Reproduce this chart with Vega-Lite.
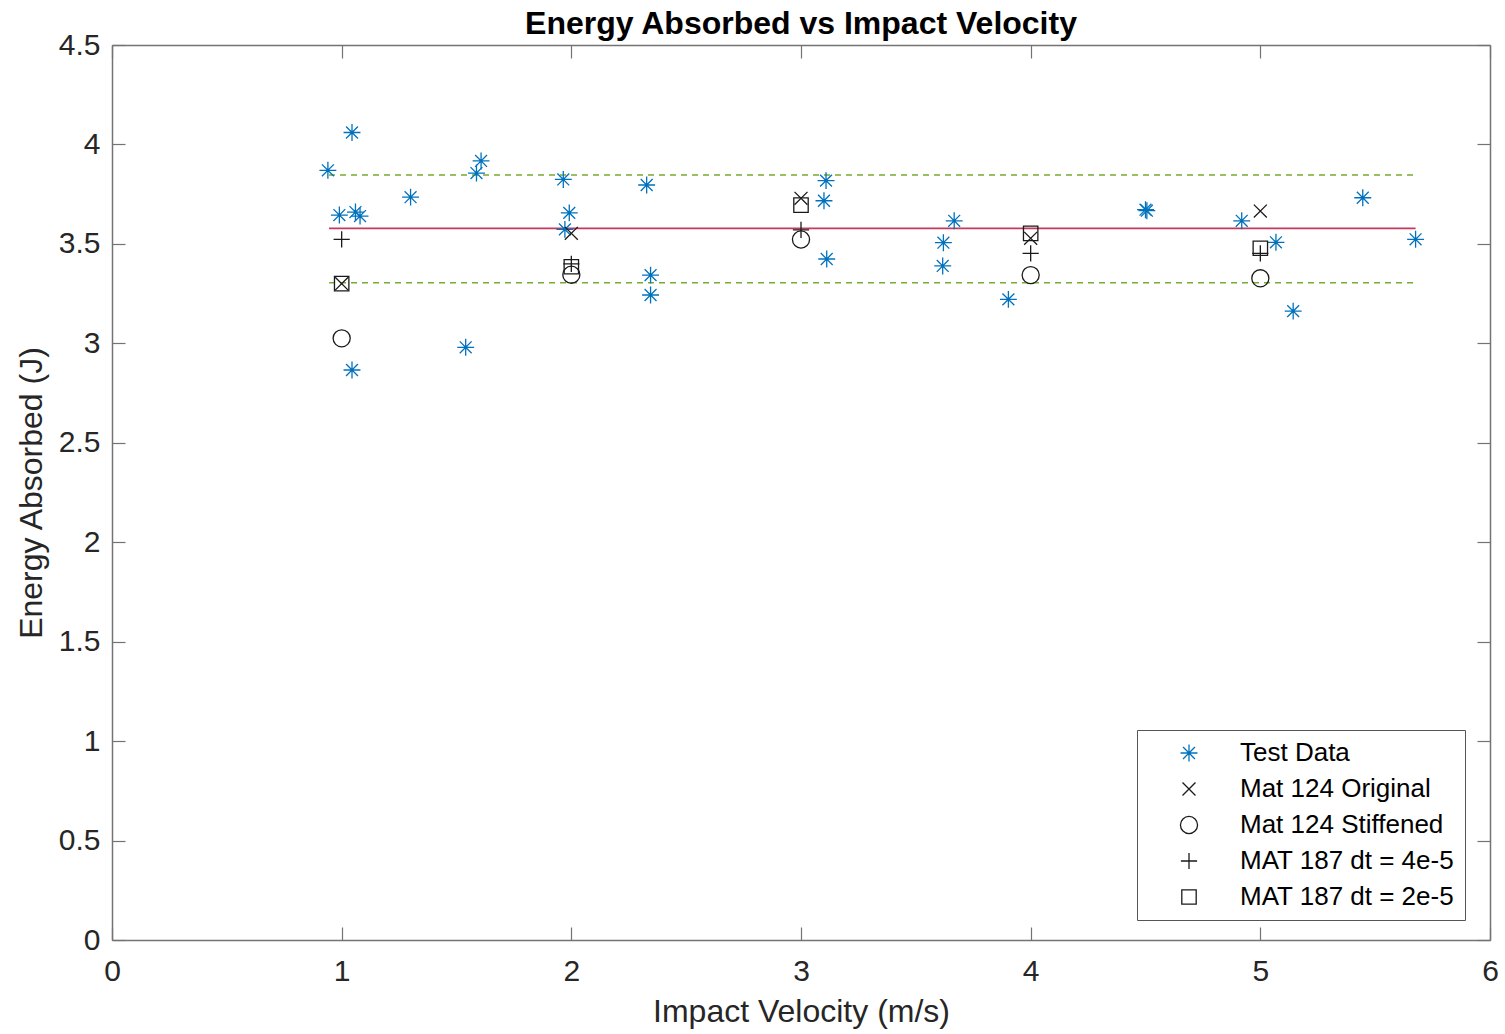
{
  "$schema": "https://vega.github.io/schema/vega-lite/v6.json",
  "width": 1378,
  "height": 895,
  "autosize": {"type": "none"},
  "padding": {"left": 112, "top": 45, "right": 15, "bottom": 94},
  "background": "white",
  "config": {
    "font": "Liberation Sans",
    "view": {"stroke": null},
    "axis": {
      "grid": false,
      "domainColor": "#737373",
      "domainWidth": 1.5,
      "tickColor": "#737373",
      "tickWidth": 1.2,
      "tickSize": -13,
      "labelFlush": false,
      "labelFont": "Liberation Sans",
      "labelFontSize": 30,
      "labelColor": "#262626",
      "titleFont": "Liberation Sans",
      "titleFontSize": 32,
      "titleFontWeight": "normal",
      "titleColor": "#262626"
    }
  },
  "title": {
    "text": "Energy Absorbed vs Impact Velocity",
    "font": "Liberation Sans",
    "fontSize": 32,
    "fontWeight": "bold",
    "color": "#000000",
    "anchor": "middle",
    "frame": "group",
    "baseline": "alphabetic",
    "offset": -36
  },
  "datasets": {
    "pts": [
      {"series": "Test Data", "v": 0.94, "E": 3.87},
      {"series": "Test Data", "v": 1.045, "E": 4.06},
      {"series": "Test Data", "v": 0.99, "E": 3.645},
      {"series": "Test Data", "v": 1.06, "E": 3.66},
      {"series": "Test Data", "v": 1.08, "E": 3.64},
      {"series": "Test Data", "v": 1.045, "E": 2.866},
      {"series": "Test Data", "v": 1.30, "E": 3.735},
      {"series": "Test Data", "v": 1.54, "E": 2.98},
      {"series": "Test Data", "v": 1.587, "E": 3.856},
      {"series": "Test Data", "v": 1.607, "E": 3.917},
      {"series": "Test Data", "v": 1.965, "E": 3.824},
      {"series": "Test Data", "v": 1.991, "E": 3.656},
      {"series": "Test Data", "v": 1.972, "E": 3.573},
      {"series": "Test Data", "v": 2.328, "E": 3.796},
      {"series": "Test Data", "v": 2.345, "E": 3.343},
      {"series": "Test Data", "v": 2.345, "E": 3.243},
      {"series": "Test Data", "v": 3.109, "E": 3.818},
      {"series": "Test Data", "v": 3.1, "E": 3.717},
      {"series": "Test Data", "v": 3.112, "E": 3.424},
      {"series": "Test Data", "v": 3.62, "E": 3.506},
      {"series": "Test Data", "v": 3.617, "E": 3.389},
      {"series": "Test Data", "v": 3.667, "E": 3.616},
      {"series": "Test Data", "v": 3.903, "E": 3.221},
      {"series": "Test Data", "v": 4.5, "E": 3.672},
      {"series": "Test Data", "v": 4.506, "E": 3.667},
      {"series": "Test Data", "v": 4.919, "E": 3.616},
      {"series": "Test Data", "v": 5.068, "E": 3.508},
      {"series": "Test Data", "v": 5.143, "E": 3.162},
      {"series": "Test Data", "v": 5.446, "E": 3.732},
      {"series": "Test Data", "v": 5.676, "E": 3.523},
      {"series": "Mat 124 Original", "v": 1, "E": 3.30},
      {"series": "Mat 124 Original", "v": 2, "E": 3.553},
      {"series": "Mat 124 Original", "v": 3, "E": 3.729},
      {"series": "Mat 124 Original", "v": 4, "E": 3.528},
      {"series": "Mat 124 Original", "v": 5, "E": 3.665},
      {"series": "Mat 124 Stiffened", "v": 1, "E": 3.025},
      {"series": "Mat 124 Stiffened", "v": 2, "E": 3.345},
      {"series": "Mat 124 Stiffened", "v": 3, "E": 3.522},
      {"series": "Mat 124 Stiffened", "v": 4, "E": 3.343},
      {"series": "Mat 124 Stiffened", "v": 5, "E": 3.327},
      {"series": "MAT 187 dt = 4e-5", "v": 1, "E": 3.523},
      {"series": "MAT 187 dt = 4e-5", "v": 2, "E": 3.40},
      {"series": "MAT 187 dt = 4e-5", "v": 3, "E": 3.57},
      {"series": "MAT 187 dt = 4e-5", "v": 4, "E": 3.452},
      {"series": "MAT 187 dt = 4e-5", "v": 5, "E": 3.452},
      {"series": "MAT 187 dt = 2e-5", "v": 1, "E": 3.30},
      {"series": "MAT 187 dt = 2e-5", "v": 2, "E": 3.385},
      {"series": "MAT 187 dt = 2e-5", "v": 3, "E": 3.695},
      {"series": "MAT 187 dt = 2e-5", "v": 4, "E": 3.553},
      {"series": "MAT 187 dt = 2e-5", "v": 5, "E": 3.478}
    ],
    "lines": [
      {"line": "mean", "v": 0.945, "E": 3.578},
      {"line": "mean", "v": 5.676, "E": 3.578},
      {"line": "upper", "v": 0.945, "E": 3.846},
      {"line": "upper", "v": 5.676, "E": 3.846},
      {"line": "lower", "v": 0.945, "E": 3.305},
      {"line": "lower", "v": 5.676, "E": 3.305}
    ]
  },
  "layer": [
    {
      "data": {"name": "lines"},
      "transform": [{"filter": "datum.line === 'mean'"}],
      "mark": {"type": "line", "color": "#C43A5C", "strokeWidth": 1.8},
      "encoding": {
        "x": {"field": "v", "type": "quantitative",
              "scale": {"domain": [0, 6], "nice": false, "zero": false},
              "axis": {"orient": "top", "labels": false, "title": null, "values": [0,1,2,3,4,5,6]}},
        "y": {"field": "E", "type": "quantitative",
              "scale": {"domain": [0, 4.5], "nice": false, "zero": false},
              "axis": {"orient": "right", "labels": false, "title": null, "values": [0,0.5,1,1.5,2,2.5,3,3.5,4,4.5]}}
      }
    },
    {
      "data": {"name": "lines"},
      "transform": [{"filter": "datum.line !== 'mean'"}],
      "mark": {"type": "line", "color": "#77AC30", "strokeWidth": 1.5, "strokeDash": [6, 5]},
      "encoding": {
        "x": {"field": "v", "type": "quantitative", "axis": null},
        "y": {"field": "E", "type": "quantitative", "axis": null},
        "detail": {"field": "line"}
      }
    },
    {
      "data": {"name": "pts"},
      "mark": {"type": "point", "filled": false, "size": 324, "strokeWidth": 1.3, "opacity": 1},
      "encoding": {
        "x": {"field": "v", "type": "quantitative",
              "axis": {"orient": "bottom", "title": "Impact Velocity (m/s)", "values": [0,1,2,3,4,5,6], "labelPadding": 29, "titlePadding": 10}},
        "y": {"field": "E", "type": "quantitative",
              "axis": {"orient": "left", "title": "Energy Absorbed (J)", "values": [0,0.5,1,1.5,2,2.5,3,3.5,4,4.5], "format": "~g", "labelPadding": 25, "titlePadding": 10}},
        "color": {
          "field": "series", "type": "nominal",
          "scale": {
            "domain": ["Test Data", "Mat 124 Original", "Mat 124 Stiffened", "MAT 187 dt = 4e-5", "MAT 187 dt = 2e-5"],
            "range": ["#0072BD", "#1a1a1a", "#1a1a1a", "#1a1a1a", "#1a1a1a"]
          },
          "legend": {
            "title": null,
            "orient": "none",
            "legendX": 1025,
            "legendY": 685,
            "padding": 10,
            "strokeColor": "#555555",
            "fillColor": "#ffffff",
            "labelFont": "Liberation Sans",
            "labelFontSize": 26,
            "labelColor": "#000000",
            "labelLimit": 0,
            "rowPadding": 10,
            "symbolSize": 324,
            "symbolOffset": 29,
            "labelOffset": 38,
            "symbolStrokeWidth": 1.3
          }
        },
        "shape": {
          "field": "series", "type": "nominal",
          "scale": {
            "domain": ["Test Data", "Mat 124 Original", "Mat 124 Stiffened", "MAT 187 dt = 4e-5", "MAT 187 dt = 2e-5"],
            "range": [
              "M-0.94,0L0.94,0M0,-0.94L0,0.94M-0.66,-0.66L0.66,0.66M-0.66,0.66L0.66,-0.66",
              "M-0.72,-0.72L0.72,0.72M-0.72,0.72L0.72,-0.72",
              "M0.95,0A0.95,0.95 0 1,1 -0.95,0A0.95,0.95 0 1,1 0.95,0Z",
              "M-0.9,0L0.9,0M0,-0.9L0,0.9",
              "M-0.8,-0.8L0.8,-0.8L0.8,0.8L-0.8,0.8Z"
            ]
          },
          "legend": null
        }
      }
    }
  ]
}
